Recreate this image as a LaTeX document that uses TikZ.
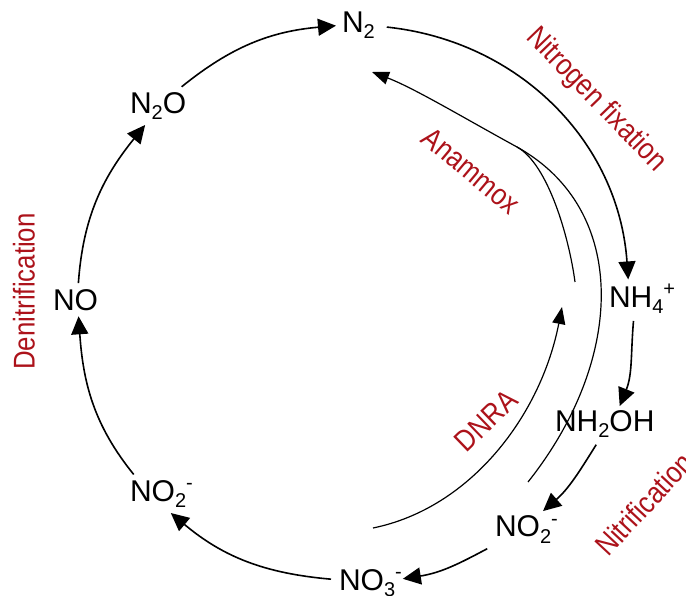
\documentclass[tikz,border=0pt]{standalone}
\usepackage{fontspec}
\setmainfont{Liberation Sans}
\newfontfamily\labfont[FakeStretch=0.86]{Liberation Sans}
\usetikzlibrary{arrows.meta}
\definecolor{labred}{RGB}{172,18,26}
\newcommand\chsub[1]{\raisebox{-6pt}{\fontsize{20}{20}\selectfont #1}}
\newcommand\chsup[1]{\raisebox{12pt}{\fontsize{20}{20}\selectfont #1}}
\begin{document}
\begin{tikzpicture}[x=1pt,y=1pt,
  chem/.style={anchor=base west, inner xsep=6pt, inner ysep=5pt, outer sep=0pt, font=\fontsize{30}{36}\selectfont},
  cyc/.style={line width=1.6pt, -{Triangle[length=18pt,width=17pt]}, shorten <=2pt},
  thinline/.style={line width=1.2pt},
  thinarr/.style={line width=1.2pt, -{Triangle[length=17pt,width=13pt]}},
  lab/.style={text=labred, font=\labfont\fontsize{30}{36}\selectfont, inner sep=0pt}]
\useasboundingbox (0,0) rectangle (686,595);
% species
\node[chem] (n2)    at (336,562) {N\chsub{2}};
\node[chem] (n2o)   at (124,481) {N\chsub{2}O};
\node[chem] (no)    at (47,284)  {NO};
\node[chem] (no2l)  at (124,93)  {NO\chsub{2}\chsup{-}};
\node[chem] (no3)   at (333,5)   {NO\chsub{3}\chsup{-}};
\node[chem] (no2r)  at (489,58)  {NO\chsub{2}\chsup{-}};
\node[chem] (nh2oh) at (549,163) {NH\chsub{2}OH};
\node[chem] (nh4)   at (603,287) {NH\chsub{4}\chsup{+}};
% main cycle
\draw[cyc] (no3.175) to[out=175,in=320] (no2l.297);
\draw[cyc] (no2l.145) to[out=129,in=274] (no.281);
\draw[cyc] (no.80) to[out=86,in=231] (n2o.235);
\draw[cyc] (n2o.40) to[out=39,in=185] (n2.180);
\draw[cyc, shorten <=6pt] (n2.-2) to[out=-6,in=94] (nh4.125);
\draw[cyc] (nh4.247) to[out=-95,in=68] (nh2oh.51);
\draw[cyc] (nh2oh.248) to[out=-122,in=41] (no2r.48);
\draw[cyc, shorten >=-5pt] (no2r.206) to[out=-152,in=9] (no3.7);
% anammox
\coordinate (amxA) at (528,113);
\coordinate (amxB) at (575,313);
\coordinate (amxM) at (517,448);
\coordinate (amxT) at (372,523);
\draw[thinarr] (amxA) .. controls (625,235) and (630,385) .. (amxM)
  .. controls (464,477) and (414,507) .. (amxT);
\draw[thinline] (amxB) .. controls (569,358) and (548,431) .. (amxM);
% DNRA
\coordinate (dnS) at (373,67);
\coordinate (dnT) at (562,288);
\draw[thinarr] (dnS) .. controls (471,87) and (541,180) .. (dnT);
% labels
\node[lab, rotate=-46] (nfix)  at (596,495)   {Nitrogen fixation};
\node[lab, rotate=-40] (anam)  at (471,424)   {Anammox};
\node[lab, rotate=90]  (denit) at (24,303.5)  {Denitrification};
\node[lab, rotate=44]  (dnra)  at (486,174)   {DNRA};
\node[lab, rotate=47]  (nitr)  at (644,91)    {Nitrification};
\end{tikzpicture}
\end{document}
